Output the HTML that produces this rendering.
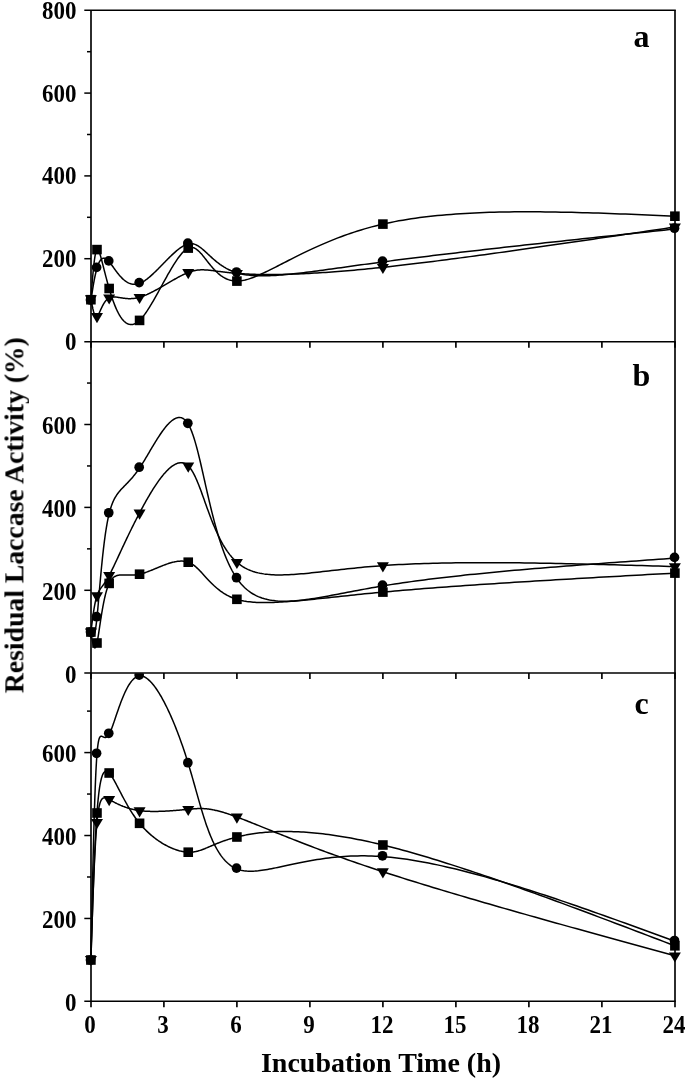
<!DOCTYPE html>
<html><head><meta charset="utf-8"><style>
html,body{margin:0;padding:0;background:#fff;}
svg{display:block;}
text{-webkit-font-smoothing:antialiased;}

</style></head><body>
<svg width="685" height="1080" viewBox="0 0 685 1080">
<rect width="685" height="1080" fill="#fff"/>
<defs><clipPath id="cpa"><rect x="0" y="10.3" width="685" height="351.2"/></clipPath><clipPath id="cpb"><rect x="0" y="341.5" width="685" height="351.70000000000005"/></clipPath><clipPath id="cpc"><rect x="0" y="673.2" width="685" height="348.19999999999993"/></clipPath></defs><g clip-path="url(#cpa)"><path d="M90.90,299.70 L90.99,298.50 L91.08,297.31 L91.17,296.11 L91.26,294.92 L91.34,293.73 L91.43,292.55 L91.52,291.36 L91.61,290.18 L91.70,289.01 L91.79,287.84 L91.88,286.68 L91.97,285.52 L92.06,284.37 L92.15,283.23 L92.24,282.10 L92.34,280.97 L92.43,279.86 L92.52,278.76 L92.61,277.66 L92.70,276.58 L92.80,275.51 L92.89,274.46 L92.99,273.41 L93.08,272.38 L93.17,271.37 L93.27,270.37 L93.37,269.38 L93.46,268.41 L93.56,267.46 L93.66,266.53 L93.76,265.61 L93.86,264.71 L93.96,263.83 L94.06,262.98 L94.16,262.14 L94.26,261.32 L94.36,260.53 L94.47,259.75 L94.57,259.00 L94.68,258.28 L94.78,257.57 L94.89,256.90 L95.00,256.24 L95.11,255.62 L95.21,255.02 L95.33,254.44 L95.44,253.90 L95.55,253.38 L95.66,252.89 L95.78,252.43 L95.89,252.01 L96.01,251.61 L96.13,251.24 L96.25,250.91 L96.37,250.60 L96.49,250.33 L96.61,250.10 L96.73,249.90 L96.86,249.73 L96.98,249.60 L97.11,249.51 L97.24,249.45 L97.37,249.42 L97.50,249.43 L97.63,249.48 L97.77,249.55 L97.90,249.66 L98.04,249.81 L98.18,249.98 L98.32,250.19 L98.47,250.42 L98.61,250.69 L98.76,250.99 L98.91,251.31 L99.06,251.67 L99.21,252.05 L99.37,252.46 L99.53,252.89 L99.69,253.36 L99.85,253.85 L100.02,254.36 L100.19,254.90 L100.36,255.46 L100.53,256.05 L100.71,256.66 L100.89,257.30 L101.07,257.95 L101.25,258.63 L101.44,259.33 L101.63,260.05 L101.83,260.78 L102.03,261.54 L102.23,262.32 L102.43,263.11 L102.64,263.93 L102.85,264.76 L103.07,265.61 L103.29,266.47 L103.51,267.35 L103.74,268.24 L103.97,269.15 L104.20,270.08 L104.44,271.01 L104.68,271.96 L104.93,272.93 L105.18,273.90 L105.43,274.89 L105.69,275.88 L105.95,276.89 L106.22,277.91 L106.49,278.93 L106.77,279.97 L107.05,281.01 L107.33,282.06 L107.62,283.12 L107.92,284.19 L108.22,285.26 L108.52,286.33 L108.83,287.41 L109.15,288.50 L109.47,289.59 L109.80,290.68 L110.13,291.78 L110.46,292.87 L110.80,293.96 L111.15,295.06 L111.50,296.15 L111.86,297.23 L112.22,298.31 L112.59,299.39 L112.97,300.45 L113.35,301.51 L113.73,302.56 L114.12,303.60 L114.52,304.63 L114.93,305.64 L115.34,306.64 L115.75,307.62 L116.17,308.59 L116.60,309.54 L117.04,310.47 L117.48,311.39 L117.93,312.28 L118.38,313.15 L118.84,313.99 L119.31,314.82 L119.78,315.61 L120.26,316.38 L120.75,317.13 L121.25,317.84 L121.75,318.53 L122.26,319.18 L122.77,319.80 L123.29,320.39 L123.82,320.95 L124.36,321.47 L124.90,321.95 L125.46,322.39 L126.01,322.80 L126.58,323.17 L127.15,323.49 L127.74,323.78 L128.33,324.02 L128.92,324.21 L129.53,324.36 L130.14,324.47 L130.76,324.52 L131.39,324.53 L132.02,324.49 L132.67,324.39 L133.32,324.25 L133.98,324.05 L134.65,323.80 L135.33,323.49 L136.01,323.12 L136.71,322.70 L137.41,322.21 L138.12,321.67 L138.84,321.07 L139.57,320.40 L140.30,319.67 L141.05,318.88 L141.80,318.03 L142.56,317.13 L143.33,316.17 L144.11,315.15 L144.89,314.09 L145.68,312.98 L146.47,311.83 L147.28,310.64 L148.08,309.40 L148.90,308.13 L149.71,306.82 L150.54,305.48 L151.36,304.10 L152.19,302.70 L153.03,301.27 L153.87,299.82 L154.71,298.35 L155.55,296.86 L156.40,295.35 L157.25,293.82 L158.10,292.29 L158.95,290.74 L159.81,289.19 L160.66,287.63 L161.52,286.06 L162.38,284.50 L163.23,282.94 L164.09,281.38 L164.95,279.83 L165.80,278.29 L166.66,276.76 L167.51,275.24 L168.36,273.74 L169.21,272.26 L170.06,270.79 L170.91,269.35 L171.75,267.94 L172.59,266.55 L173.42,265.19 L174.26,263.86 L175.08,262.57 L175.91,261.32 L176.72,260.10 L177.54,258.92 L178.35,257.79 L179.15,256.70 L179.95,255.67 L180.74,254.68 L181.52,253.75 L182.30,252.87 L183.07,252.04 L183.83,251.28 L184.58,250.58 L185.33,249.95 L186.07,249.38 L186.80,248.88 L187.52,248.45 L188.23,248.10 L188.93,247.82 L189.63,247.62 L190.31,247.48 L190.99,247.42 L191.66,247.42 L192.32,247.49 L192.98,247.62 L193.64,247.81 L194.28,248.06 L194.93,248.36 L195.57,248.71 L196.21,249.11 L196.85,249.56 L197.49,250.06 L198.12,250.60 L198.76,251.18 L199.40,251.80 L200.04,252.46 L200.68,253.14 L201.32,253.86 L201.97,254.61 L202.62,255.39 L203.28,256.19 L203.94,257.01 L204.61,257.85 L205.28,258.71 L205.96,259.58 L206.65,260.46 L207.35,261.36 L208.06,262.26 L208.78,263.17 L209.51,264.08 L210.25,264.99 L211.00,265.89 L211.77,266.80 L212.54,267.70 L213.34,268.58 L214.14,269.46 L214.97,270.33 L215.80,271.17 L216.66,272.00 L217.53,272.81 L218.42,273.59 L219.33,274.35 L220.25,275.09 L221.20,275.79 L222.17,276.46 L223.15,277.09 L224.16,277.69 L225.20,278.24 L226.25,278.76 L227.33,279.23 L228.44,279.65 L229.56,280.02 L230.72,280.35 L231.90,280.61 L233.11,280.83 L234.34,280.98 L235.61,281.07 L236.90,281.10 L238.22,281.06 L239.57,280.96 L240.95,280.80 L242.37,280.58 L243.81,280.30 L245.29,279.96 L246.80,279.56 L248.34,279.11 L249.91,278.61 L251.52,278.06 L253.15,277.46 L254.83,276.81 L256.54,276.12 L258.28,275.39 L260.06,274.61 L261.87,273.79 L263.72,272.94 L265.61,272.04 L267.53,271.12 L269.49,270.16 L271.49,269.16 L273.52,268.14 L275.59,267.09 L277.71,266.01 L279.86,264.91 L282.05,263.79 L284.28,262.64 L286.55,261.48 L288.86,260.29 L291.22,259.10 L293.61,257.88 L296.05,256.66 L298.53,255.42 L301.05,254.17 L303.61,252.92 L306.22,251.66 L308.87,250.39 L311.57,249.13 L314.31,247.86 L317.10,246.59 L319.93,245.33 L322.80,244.07 L325.73,242.82 L328.70,241.57 L331.72,240.33 L334.78,239.11 L337.89,237.90 L341.05,236.70 L344.26,235.52 L347.52,234.36 L350.83,233.21 L354.19,232.09 L357.60,230.99 L361.06,229.92 L364.57,228.87 L368.13,227.86 L371.74,226.87 L375.41,225.91 L379.12,224.99 L382.90,224.10 L386.79,223.23 L390.73,222.41 L394.73,221.62 L398.78,220.86 L402.88,220.14 L407.03,219.46 L411.23,218.81 L415.48,218.19 L419.78,217.61 L424.13,217.06 L428.52,216.54 L432.95,216.05 L437.43,215.59 L441.96,215.16 L446.52,214.76 L451.13,214.39 L455.77,214.05 L460.46,213.73 L465.18,213.44 L469.94,213.18 L474.74,212.94 L479.58,212.73 L484.45,212.54 L489.35,212.37 L494.28,212.23 L499.25,212.11 L504.25,212.01 L509.28,211.93 L514.33,211.87 L519.42,211.83 L524.53,211.81 L529.67,211.81 L534.83,211.82 L540.02,211.85 L545.23,211.90 L550.46,211.96 L555.72,212.04 L561.00,212.13 L566.29,212.24 L571.61,212.35 L576.94,212.48 L582.29,212.63 L587.65,212.78 L593.03,212.94 L598.43,213.12 L603.83,213.30 L609.25,213.49 L614.68,213.69 L620.12,213.89 L625.57,214.11 L631.03,214.32 L636.50,214.55 L641.97,214.78 L647.45,215.01 L652.93,215.24 L658.42,215.48 L663.91,215.72 L669.40,215.96 L674.89,216.20" fill="none" stroke="#000" stroke-width="1.5"/><path d="M90.90,298.60 L90.99,299.09 L91.08,299.59 L91.17,300.08 L91.26,300.57 L91.34,301.06 L91.43,301.55 L91.52,302.04 L91.61,302.52 L91.70,303.00 L91.79,303.48 L91.88,303.96 L91.97,304.43 L92.06,304.90 L92.15,305.36 L92.24,305.82 L92.34,306.27 L92.43,306.72 L92.52,307.17 L92.61,307.61 L92.70,308.04 L92.80,308.46 L92.89,308.88 L92.99,309.29 L93.08,309.70 L93.17,310.09 L93.27,310.48 L93.37,310.86 L93.46,311.23 L93.56,311.59 L93.66,311.94 L93.76,312.28 L93.86,312.62 L93.96,312.94 L94.06,313.25 L94.16,313.55 L94.26,313.84 L94.36,314.11 L94.47,314.38 L94.57,314.63 L94.68,314.87 L94.78,315.10 L94.89,315.31 L95.00,315.51 L95.11,315.70 L95.21,315.87 L95.33,316.02 L95.44,316.17 L95.55,316.29 L95.66,316.40 L95.78,316.50 L95.89,316.58 L96.01,316.64 L96.13,316.68 L96.25,316.71 L96.37,316.72 L96.49,316.72 L96.61,316.69 L96.73,316.65 L96.86,316.58 L96.98,316.50 L97.11,316.40 L97.24,316.28 L97.37,316.14 L97.50,315.98 L97.63,315.81 L97.77,315.62 L97.90,315.41 L98.04,315.19 L98.18,314.96 L98.32,314.71 L98.47,314.44 L98.61,314.17 L98.76,313.88 L98.91,313.58 L99.06,313.27 L99.21,312.95 L99.37,312.61 L99.53,312.27 L99.69,311.93 L99.85,311.57 L100.02,311.20 L100.19,310.83 L100.36,310.46 L100.53,310.07 L100.71,309.69 L100.89,309.30 L101.07,308.90 L101.25,308.50 L101.44,308.10 L101.63,307.70 L101.83,307.30 L102.03,306.89 L102.23,306.49 L102.43,306.08 L102.64,305.68 L102.85,305.28 L103.07,304.88 L103.29,304.49 L103.51,304.10 L103.74,303.71 L103.97,303.33 L104.20,302.95 L104.44,302.58 L104.68,302.21 L104.93,301.86 L105.18,301.51 L105.43,301.17 L105.69,300.84 L105.95,300.52 L106.22,300.21 L106.49,299.91 L106.77,299.62 L107.05,299.34 L107.33,299.08 L107.62,298.83 L107.92,298.59 L108.22,298.37 L108.52,298.16 L108.83,297.97 L109.15,297.80 L109.47,297.64 L109.80,297.50 L110.13,297.38 L110.46,297.27 L110.80,297.17 L111.15,297.09 L111.50,297.03 L111.86,296.97 L112.22,296.93 L112.59,296.90 L112.97,296.88 L113.35,296.87 L113.73,296.88 L114.12,296.89 L114.52,296.91 L114.93,296.94 L115.34,296.97 L115.75,297.01 L116.17,297.06 L116.60,297.12 L117.04,297.18 L117.48,297.24 L117.93,297.31 L118.38,297.39 L118.84,297.46 L119.31,297.54 L119.78,297.62 L120.26,297.70 L120.75,297.78 L121.25,297.86 L121.75,297.94 L122.26,298.02 L122.77,298.10 L123.29,298.17 L123.82,298.24 L124.36,298.31 L124.90,298.37 L125.46,298.43 L126.01,298.48 L126.58,298.53 L127.15,298.57 L127.74,298.61 L128.33,298.63 L128.92,298.65 L129.53,298.66 L130.14,298.66 L130.76,298.64 L131.39,298.62 L132.02,298.59 L132.67,298.54 L133.32,298.48 L133.98,298.41 L134.65,298.33 L135.33,298.23 L136.01,298.11 L136.71,297.99 L137.41,297.84 L138.12,297.68 L138.84,297.50 L139.57,297.30 L140.30,297.08 L141.05,296.85 L141.80,296.60 L142.56,296.33 L143.33,296.05 L144.11,295.75 L144.89,295.43 L145.68,295.11 L146.47,294.76 L147.28,294.41 L148.08,294.04 L148.90,293.66 L149.71,293.27 L150.54,292.86 L151.36,292.45 L152.19,292.03 L153.03,291.59 L153.87,291.15 L154.71,290.70 L155.55,290.25 L156.40,289.78 L157.25,289.32 L158.10,288.84 L158.95,288.36 L159.81,287.87 L160.66,287.38 L161.52,286.89 L162.38,286.40 L163.23,285.90 L164.09,285.40 L164.95,284.90 L165.80,284.40 L166.66,283.90 L167.51,283.40 L168.36,282.90 L169.21,282.40 L170.06,281.91 L170.91,281.41 L171.75,280.92 L172.59,280.44 L173.42,279.96 L174.26,279.49 L175.08,279.02 L175.91,278.55 L176.72,278.10 L177.54,277.65 L178.35,277.21 L179.15,276.78 L179.95,276.36 L180.74,275.95 L181.52,275.55 L182.30,275.16 L183.07,274.78 L183.83,274.41 L184.58,274.06 L185.33,273.72 L186.07,273.39 L186.80,273.08 L187.52,272.78 L188.23,272.50 L188.93,272.23 L189.63,271.99 L190.31,271.75 L190.99,271.53 L191.66,271.33 L192.32,271.14 L192.98,270.97 L193.64,270.81 L194.28,270.66 L194.93,270.52 L195.57,270.40 L196.21,270.29 L196.85,270.20 L197.49,270.11 L198.12,270.04 L198.76,269.98 L199.40,269.93 L200.04,269.89 L200.68,269.86 L201.32,269.84 L201.97,269.83 L202.62,269.83 L203.28,269.84 L203.94,269.85 L204.61,269.88 L205.28,269.91 L205.96,269.95 L206.65,270.00 L207.35,270.06 L208.06,270.12 L208.78,270.18 L209.51,270.26 L210.25,270.34 L211.00,270.42 L211.77,270.51 L212.54,270.61 L213.34,270.70 L214.14,270.81 L214.97,270.91 L215.80,271.02 L216.66,271.14 L217.53,271.25 L218.42,271.37 L219.33,271.49 L220.25,271.61 L221.20,271.73 L222.17,271.85 L223.15,271.98 L224.16,272.10 L225.20,272.23 L226.25,272.35 L227.33,272.48 L228.44,272.60 L229.56,272.72 L230.72,272.84 L231.90,272.96 L233.11,273.07 L234.34,273.18 L235.61,273.29 L236.90,273.40 L238.22,273.50 L239.57,273.60 L240.95,273.70 L242.37,273.79 L243.81,273.87 L245.29,273.96 L246.80,274.03 L248.34,274.11 L249.91,274.17 L251.52,274.24 L253.15,274.29 L254.83,274.35 L256.54,274.39 L258.28,274.43 L260.06,274.47 L261.87,274.50 L263.72,274.52 L265.61,274.53 L267.53,274.54 L269.49,274.55 L271.49,274.54 L273.52,274.53 L275.59,274.51 L277.71,274.49 L279.86,274.45 L282.05,274.41 L284.28,274.37 L286.55,274.31 L288.86,274.24 L291.22,274.17 L293.61,274.09 L296.05,274.00 L298.53,273.90 L301.05,273.79 L303.61,273.67 L306.22,273.55 L308.87,273.41 L311.57,273.27 L314.31,273.11 L317.10,272.94 L319.93,272.77 L322.80,272.58 L325.73,272.39 L328.70,272.18 L331.72,271.96 L334.78,271.73 L337.89,271.50 L341.05,271.24 L344.26,270.98 L347.52,270.71 L350.83,270.42 L354.19,270.13 L357.60,269.82 L361.06,269.49 L364.57,269.16 L368.13,268.81 L371.74,268.46 L375.41,268.08 L379.12,267.70 L382.90,267.30 L386.79,266.88 L390.73,266.45 L394.73,266.00 L398.78,265.55 L402.88,265.07 L407.03,264.59 L411.23,264.09 L415.48,263.58 L419.78,263.06 L424.13,262.53 L428.52,261.99 L432.95,261.43 L437.43,260.87 L441.96,260.29 L446.52,259.70 L451.13,259.11 L455.77,258.50 L460.46,257.88 L465.18,257.25 L469.94,256.62 L474.74,255.97 L479.58,255.32 L484.45,254.66 L489.35,253.98 L494.28,253.30 L499.25,252.62 L504.25,251.92 L509.28,251.22 L514.33,250.51 L519.42,249.79 L524.53,249.07 L529.67,248.34 L534.83,247.60 L540.02,246.86 L545.23,246.11 L550.46,245.36 L555.72,244.60 L561.00,243.83 L566.29,243.06 L571.61,242.29 L576.94,241.51 L582.29,240.73 L587.65,239.94 L593.03,239.15 L598.43,238.36 L603.83,237.56 L609.25,236.76 L614.68,235.95 L620.12,235.15 L625.57,234.34 L631.03,233.53 L636.50,232.72 L641.97,231.90 L647.45,231.09 L652.93,230.27 L658.42,229.46 L663.91,228.64 L669.40,227.82 L674.89,227.00" fill="none" stroke="#000" stroke-width="1.5"/><path d="M90.90,300.80 L90.99,300.20 L91.08,299.60 L91.17,299.00 L91.26,298.40 L91.34,297.80 L91.43,297.20 L91.52,296.61 L91.61,296.01 L91.70,295.41 L91.79,294.82 L91.88,294.22 L91.97,293.63 L92.06,293.04 L92.15,292.44 L92.24,291.86 L92.34,291.27 L92.43,290.68 L92.52,290.09 L92.61,289.51 L92.70,288.93 L92.80,288.35 L92.89,287.77 L92.99,287.19 L93.08,286.62 L93.17,286.05 L93.27,285.48 L93.37,284.91 L93.46,284.35 L93.56,283.79 L93.66,283.23 L93.76,282.67 L93.86,282.12 L93.96,281.57 L94.06,281.02 L94.16,280.48 L94.26,279.94 L94.36,279.40 L94.47,278.87 L94.57,278.34 L94.68,277.81 L94.78,277.29 L94.89,276.77 L95.00,276.25 L95.11,275.74 L95.21,275.24 L95.33,274.73 L95.44,274.24 L95.55,273.74 L95.66,273.25 L95.78,272.77 L95.89,272.29 L96.01,271.82 L96.13,271.35 L96.25,270.88 L96.37,270.42 L96.49,269.97 L96.61,269.52 L96.73,269.07 L96.86,268.63 L96.98,268.20 L97.11,267.77 L97.24,267.35 L97.37,266.94 L97.50,266.53 L97.63,266.12 L97.77,265.73 L97.90,265.34 L98.04,264.96 L98.18,264.59 L98.32,264.22 L98.47,263.87 L98.61,263.52 L98.76,263.18 L98.91,262.85 L99.06,262.52 L99.21,262.21 L99.37,261.91 L99.53,261.62 L99.69,261.34 L99.85,261.06 L100.02,260.80 L100.19,260.55 L100.36,260.31 L100.53,260.09 L100.71,259.87 L100.89,259.67 L101.07,259.48 L101.25,259.30 L101.44,259.13 L101.63,258.98 L101.83,258.84 L102.03,258.71 L102.23,258.60 L102.43,258.50 L102.64,258.42 L102.85,258.35 L103.07,258.29 L103.29,258.25 L103.51,258.23 L103.74,258.22 L103.97,258.23 L104.20,258.25 L104.44,258.29 L104.68,258.35 L104.93,258.42 L105.18,258.51 L105.43,258.61 L105.69,258.74 L105.95,258.88 L106.22,259.04 L106.49,259.22 L106.77,259.42 L107.05,259.64 L107.33,259.87 L107.62,260.13 L107.92,260.40 L108.22,260.70 L108.52,261.01 L108.83,261.34 L109.15,261.70 L109.47,262.08 L109.80,262.47 L110.13,262.89 L110.46,263.32 L110.80,263.77 L111.15,264.23 L111.50,264.71 L111.86,265.21 L112.22,265.71 L112.59,266.23 L112.97,266.76 L113.35,267.29 L113.73,267.84 L114.12,268.39 L114.52,268.95 L114.93,269.51 L115.34,270.08 L115.75,270.65 L116.17,271.22 L116.60,271.79 L117.04,272.37 L117.48,272.94 L117.93,273.51 L118.38,274.08 L118.84,274.64 L119.31,275.19 L119.78,275.74 L120.26,276.29 L120.75,276.82 L121.25,277.35 L121.75,277.86 L122.26,278.36 L122.77,278.85 L123.29,279.33 L123.82,279.79 L124.36,280.23 L124.90,280.66 L125.46,281.07 L126.01,281.46 L126.58,281.83 L127.15,282.18 L127.74,282.51 L128.33,282.81 L128.92,283.09 L129.53,283.35 L130.14,283.57 L130.76,283.77 L131.39,283.95 L132.02,284.09 L132.67,284.20 L133.32,284.28 L133.98,284.33 L134.65,284.34 L135.33,284.32 L136.01,284.26 L136.71,284.17 L137.41,284.04 L138.12,283.86 L138.84,283.65 L139.57,283.40 L140.30,283.11 L141.05,282.77 L141.80,282.40 L142.56,281.98 L143.33,281.54 L144.11,281.05 L144.89,280.54 L145.68,279.99 L146.47,279.41 L147.28,278.80 L148.08,278.16 L148.90,277.50 L149.71,276.82 L150.54,276.11 L151.36,275.38 L152.19,274.62 L153.03,273.85 L153.87,273.07 L154.71,272.26 L155.55,271.45 L156.40,270.62 L157.25,269.78 L158.10,268.93 L158.95,268.07 L159.81,267.20 L160.66,266.33 L161.52,265.45 L162.38,264.57 L163.23,263.69 L164.09,262.81 L164.95,261.94 L165.80,261.06 L166.66,260.19 L167.51,259.33 L168.36,258.47 L169.21,257.63 L170.06,256.79 L170.91,255.97 L171.75,255.16 L172.59,254.36 L173.42,253.59 L174.26,252.83 L175.08,252.09 L175.91,251.37 L176.72,250.67 L177.54,250.00 L178.35,249.35 L179.15,248.73 L179.95,248.13 L180.74,247.57 L181.52,247.04 L182.30,246.54 L183.07,246.07 L183.83,245.65 L184.58,245.25 L185.33,244.90 L186.07,244.59 L186.80,244.31 L187.52,244.08 L188.23,243.90 L188.93,243.76 L189.63,243.67 L190.31,243.62 L190.99,243.61 L191.66,243.64 L192.32,243.71 L192.98,243.82 L193.64,243.97 L194.28,244.15 L194.93,244.37 L195.57,244.63 L196.21,244.91 L196.85,245.23 L197.49,245.57 L198.12,245.95 L198.76,246.35 L199.40,246.78 L200.04,247.24 L200.68,247.71 L201.32,248.22 L201.97,248.74 L202.62,249.28 L203.28,249.84 L203.94,250.42 L204.61,251.02 L205.28,251.63 L205.96,252.25 L206.65,252.89 L207.35,253.54 L208.06,254.20 L208.78,254.87 L209.51,255.55 L210.25,256.23 L211.00,256.92 L211.77,257.62 L212.54,258.32 L213.34,259.01 L214.14,259.71 L214.97,260.41 L215.80,261.11 L216.66,261.81 L217.53,262.50 L218.42,263.18 L219.33,263.86 L220.25,264.53 L221.20,265.19 L222.17,265.84 L223.15,266.48 L224.16,267.11 L225.20,267.72 L226.25,268.32 L227.33,268.90 L228.44,269.46 L229.56,270.00 L230.72,270.53 L231.90,271.03 L233.11,271.51 L234.34,271.96 L235.61,272.40 L236.90,272.80 L238.22,273.18 L239.57,273.53 L240.95,273.85 L242.37,274.15 L243.81,274.42 L245.29,274.67 L246.80,274.89 L248.34,275.08 L249.91,275.26 L251.52,275.41 L253.15,275.53 L254.83,275.63 L256.54,275.71 L258.28,275.77 L260.06,275.81 L261.87,275.83 L263.72,275.82 L265.61,275.79 L267.53,275.75 L269.49,275.68 L271.49,275.60 L273.52,275.50 L275.59,275.38 L277.71,275.24 L279.86,275.08 L282.05,274.91 L284.28,274.72 L286.55,274.51 L288.86,274.29 L291.22,274.05 L293.61,273.80 L296.05,273.53 L298.53,273.25 L301.05,272.96 L303.61,272.65 L306.22,272.33 L308.87,272.00 L311.57,271.65 L314.31,271.30 L317.10,270.93 L319.93,270.55 L322.80,270.16 L325.73,269.77 L328.70,269.36 L331.72,268.94 L334.78,268.52 L337.89,268.08 L341.05,267.64 L344.26,267.20 L347.52,266.74 L350.83,266.28 L354.19,265.81 L357.60,265.34 L361.06,264.86 L364.57,264.37 L368.13,263.89 L371.74,263.40 L375.41,262.90 L379.12,262.40 L382.90,261.90 L386.79,261.39 L390.73,260.87 L394.73,260.36 L398.78,259.84 L402.88,259.32 L407.03,258.79 L411.23,258.27 L415.48,257.74 L419.78,257.21 L424.13,256.68 L428.52,256.14 L432.95,255.61 L437.43,255.07 L441.96,254.53 L446.52,253.99 L451.13,253.45 L455.77,252.90 L460.46,252.36 L465.18,251.81 L469.94,251.26 L474.74,250.71 L479.58,250.16 L484.45,249.60 L489.35,249.05 L494.28,248.49 L499.25,247.93 L504.25,247.37 L509.28,246.81 L514.33,246.25 L519.42,245.68 L524.53,245.12 L529.67,244.55 L534.83,243.99 L540.02,243.42 L545.23,242.85 L550.46,242.28 L555.72,241.71 L561.00,241.14 L566.29,240.57 L571.61,239.99 L576.94,239.42 L582.29,238.84 L587.65,238.27 L593.03,237.69 L598.43,237.11 L603.83,236.54 L609.25,235.96 L614.68,235.38 L620.12,234.80 L625.57,234.22 L631.03,233.64 L636.50,233.06 L641.97,232.48 L647.45,231.90 L652.93,231.32 L658.42,230.74 L663.91,230.16 L669.40,229.58 L674.89,229.00" fill="none" stroke="#000" stroke-width="1.5"/><rect x="86.10" y="294.90" width="9.6" height="9.6"/><rect x="92.18" y="244.80" width="9.6" height="9.6"/><rect x="104.35" y="283.70" width="9.6" height="9.6"/><rect x="134.77" y="315.60" width="9.6" height="9.6"/><rect x="183.43" y="243.30" width="9.6" height="9.6"/><rect x="232.10" y="276.30" width="9.6" height="9.6"/><rect x="378.10" y="219.30" width="9.6" height="9.6"/><rect x="670.09" y="211.40" width="9.6" height="9.6"/><path d="M84.90,295.20 L96.90,295.20 L90.90,305.40 Z"/><path d="M90.98,313.10 L102.98,313.10 L96.98,323.30 Z"/><path d="M103.15,294.40 L115.15,294.40 L109.15,304.60 Z"/><path d="M133.57,293.90 L145.57,293.90 L139.57,304.10 Z"/><path d="M182.23,269.10 L194.23,269.10 L188.23,279.30 Z"/><path d="M230.90,270.00 L242.90,270.00 L236.90,280.20 Z"/><path d="M376.90,263.90 L388.90,263.90 L382.90,274.10 Z"/><path d="M668.89,223.60 L680.89,223.60 L674.89,233.80 Z"/><circle cx="90.50" cy="300.00" r="4.85"/><circle cx="96.58" cy="267.40" r="4.85"/><circle cx="108.75" cy="260.90" r="4.85"/><circle cx="139.17" cy="282.60" r="4.85"/><circle cx="187.83" cy="243.10" r="4.85"/><circle cx="236.50" cy="272.00" r="4.85"/><circle cx="382.50" cy="261.10" r="4.85"/><circle cx="674.49" cy="228.20" r="4.85"/></g><g clip-path="url(#cpb)"><path d="M90.90,632.00 L90.99,632.56 L91.08,633.13 L91.17,633.69 L91.26,634.25 L91.34,634.81 L91.43,635.37 L91.52,635.92 L91.61,636.47 L91.70,637.01 L91.79,637.54 L91.88,638.07 L91.97,638.60 L92.06,639.11 L92.15,639.62 L92.24,640.12 L92.34,640.61 L92.43,641.08 L92.52,641.55 L92.61,642.01 L92.70,642.45 L92.80,642.88 L92.89,643.30 L92.99,643.70 L93.08,644.09 L93.17,644.47 L93.27,644.83 L93.37,645.17 L93.46,645.49 L93.56,645.80 L93.66,646.09 L93.76,646.36 L93.86,646.61 L93.96,646.83 L94.06,647.04 L94.16,647.23 L94.26,647.39 L94.36,647.53 L94.47,647.65 L94.57,647.75 L94.68,647.81 L94.78,647.86 L94.89,647.88 L95.00,647.87 L95.11,647.83 L95.21,647.76 L95.33,647.67 L95.44,647.55 L95.55,647.40 L95.66,647.21 L95.78,647.00 L95.89,646.75 L96.01,646.47 L96.13,646.16 L96.25,645.82 L96.37,645.44 L96.49,645.02 L96.61,644.57 L96.73,644.08 L96.86,643.56 L96.98,643.00 L97.11,642.40 L97.24,641.77 L97.37,641.09 L97.50,640.39 L97.63,639.65 L97.77,638.88 L97.90,638.07 L98.04,637.24 L98.18,636.38 L98.32,635.50 L98.47,634.58 L98.61,633.64 L98.76,632.68 L98.91,631.70 L99.06,630.69 L99.21,629.67 L99.37,628.62 L99.53,627.56 L99.69,626.49 L99.85,625.39 L100.02,624.29 L100.19,623.17 L100.36,622.04 L100.53,620.90 L100.71,619.75 L100.89,618.59 L101.07,617.43 L101.25,616.26 L101.44,615.09 L101.63,613.91 L101.83,612.74 L102.03,611.56 L102.23,610.38 L102.43,609.21 L102.64,608.04 L102.85,606.87 L103.07,605.71 L103.29,604.56 L103.51,603.41 L103.74,602.27 L103.97,601.15 L104.20,600.04 L104.44,598.93 L104.68,597.85 L104.93,596.78 L105.18,595.72 L105.43,594.69 L105.69,593.67 L105.95,592.67 L106.22,591.70 L106.49,590.74 L106.77,589.82 L107.05,588.91 L107.33,588.04 L107.62,587.19 L107.92,586.37 L108.22,585.58 L108.52,584.82 L108.83,584.09 L109.15,583.40 L109.47,582.74 L109.80,582.12 L110.13,581.53 L110.46,580.97 L110.80,580.44 L111.15,579.95 L111.50,579.48 L111.86,579.04 L112.22,578.63 L112.59,578.25 L112.97,577.90 L113.35,577.57 L113.73,577.26 L114.12,576.98 L114.52,576.72 L114.93,576.48 L115.34,576.26 L115.75,576.06 L116.17,575.88 L116.60,575.72 L117.04,575.58 L117.48,575.46 L117.93,575.35 L118.38,575.25 L118.84,575.17 L119.31,575.10 L119.78,575.04 L120.26,575.00 L120.75,574.96 L121.25,574.94 L121.75,574.92 L122.26,574.91 L122.77,574.91 L123.29,574.91 L123.82,574.92 L124.36,574.93 L124.90,574.95 L125.46,574.96 L126.01,574.98 L126.58,575.01 L127.15,575.03 L127.74,575.04 L128.33,575.06 L128.92,575.08 L129.53,575.09 L130.14,575.09 L130.76,575.09 L131.39,575.09 L132.02,575.07 L132.67,575.05 L133.32,575.02 L133.98,574.98 L134.65,574.93 L135.33,574.87 L136.01,574.79 L136.71,574.71 L137.41,574.60 L138.12,574.49 L138.84,574.35 L139.57,574.20 L140.30,574.03 L141.05,573.85 L141.80,573.64 L142.56,573.43 L143.33,573.20 L144.11,572.95 L144.89,572.69 L145.68,572.42 L146.47,572.14 L147.28,571.85 L148.08,571.55 L148.90,571.24 L149.71,570.92 L150.54,570.59 L151.36,570.26 L152.19,569.93 L153.03,569.58 L153.87,569.24 L154.71,568.89 L155.55,568.54 L156.40,568.19 L157.25,567.84 L158.10,567.48 L158.95,567.13 L159.81,566.78 L160.66,566.44 L161.52,566.09 L162.38,565.76 L163.23,565.42 L164.09,565.10 L164.95,564.78 L165.80,564.46 L166.66,564.16 L167.51,563.87 L168.36,563.58 L169.21,563.31 L170.06,563.05 L170.91,562.80 L171.75,562.56 L172.59,562.34 L173.42,562.14 L174.26,561.95 L175.08,561.77 L175.91,561.62 L176.72,561.48 L177.54,561.36 L178.35,561.27 L179.15,561.19 L179.95,561.13 L180.74,561.10 L181.52,561.09 L182.30,561.11 L183.07,561.15 L183.83,561.21 L184.58,561.31 L185.33,561.43 L186.07,561.58 L186.80,561.75 L187.52,561.96 L188.23,562.20 L188.93,562.47 L189.63,562.77 L190.31,563.10 L190.99,563.46 L191.66,563.85 L192.32,564.26 L192.98,564.70 L193.64,565.16 L194.28,565.65 L194.93,566.16 L195.57,566.69 L196.21,567.25 L196.85,567.82 L197.49,568.41 L198.12,569.02 L198.76,569.65 L199.40,570.29 L200.04,570.95 L200.68,571.62 L201.32,572.31 L201.97,573.00 L202.62,573.71 L203.28,574.43 L203.94,575.16 L204.61,575.90 L205.28,576.64 L205.96,577.39 L206.65,578.15 L207.35,578.91 L208.06,579.67 L208.78,580.43 L209.51,581.20 L210.25,581.97 L211.00,582.73 L211.77,583.50 L212.54,584.26 L213.34,585.02 L214.14,585.78 L214.97,586.53 L215.80,587.27 L216.66,588.01 L217.53,588.73 L218.42,589.45 L219.33,590.16 L220.25,590.86 L221.20,591.54 L222.17,592.21 L223.15,592.87 L224.16,593.51 L225.20,594.14 L226.25,594.75 L227.33,595.34 L228.44,595.91 L229.56,596.46 L230.72,596.99 L231.90,597.50 L233.11,597.99 L234.34,598.45 L235.61,598.89 L236.90,599.30 L238.22,599.68 L239.57,600.04 L240.95,600.38 L242.37,600.68 L243.81,600.97 L245.29,601.22 L246.80,601.46 L248.34,601.67 L249.91,601.86 L251.52,602.02 L253.15,602.17 L254.83,602.29 L256.54,602.39 L258.28,602.47 L260.06,602.53 L261.87,602.57 L263.72,602.59 L265.61,602.59 L267.53,602.57 L269.49,602.54 L271.49,602.49 L273.52,602.42 L275.59,602.34 L277.71,602.24 L279.86,602.12 L282.05,601.99 L284.28,601.85 L286.55,601.69 L288.86,601.52 L291.22,601.33 L293.61,601.13 L296.05,600.92 L298.53,600.70 L301.05,600.47 L303.61,600.23 L306.22,599.97 L308.87,599.71 L311.57,599.44 L314.31,599.16 L317.10,598.87 L319.93,598.57 L322.80,598.27 L325.73,597.96 L328.70,597.64 L331.72,597.32 L334.78,596.99 L337.89,596.66 L341.05,596.32 L344.26,595.98 L347.52,595.63 L350.83,595.29 L354.19,594.94 L357.60,594.58 L361.06,594.23 L364.57,593.87 L368.13,593.52 L371.74,593.16 L375.41,592.81 L379.12,592.45 L382.90,592.10 L386.79,591.74 L390.73,591.39 L394.73,591.03 L398.78,590.68 L402.88,590.33 L407.03,589.98 L411.23,589.64 L415.48,589.29 L419.78,588.95 L424.13,588.60 L428.52,588.26 L432.95,587.92 L437.43,587.59 L441.96,587.25 L446.52,586.91 L451.13,586.58 L455.77,586.25 L460.46,585.92 L465.18,585.59 L469.94,585.26 L474.74,584.93 L479.58,584.61 L484.45,584.28 L489.35,583.96 L494.28,583.64 L499.25,583.32 L504.25,582.99 L509.28,582.68 L514.33,582.36 L519.42,582.04 L524.53,581.72 L529.67,581.41 L534.83,581.09 L540.02,580.78 L545.23,580.47 L550.46,580.15 L555.72,579.84 L561.00,579.53 L566.29,579.22 L571.61,578.91 L576.94,578.60 L582.29,578.29 L587.65,577.98 L593.03,577.68 L598.43,577.37 L603.83,577.06 L609.25,576.76 L614.68,576.45 L620.12,576.14 L625.57,575.84 L631.03,575.53 L636.50,575.23 L641.97,574.92 L647.45,574.62 L652.93,574.32 L658.42,574.01 L663.91,573.71 L669.40,573.40 L674.89,573.10" fill="none" stroke="#000" stroke-width="1.5"/><path d="M90.90,632.00 L90.99,631.28 L91.08,630.56 L91.17,629.84 L91.26,629.12 L91.34,628.40 L91.43,627.68 L91.52,626.96 L91.61,626.25 L91.70,625.54 L91.79,624.82 L91.88,624.11 L91.97,623.40 L92.06,622.70 L92.15,621.99 L92.24,621.29 L92.34,620.60 L92.43,619.90 L92.52,619.21 L92.61,618.52 L92.70,617.84 L92.80,617.16 L92.89,616.48 L92.99,615.81 L93.08,615.14 L93.17,614.47 L93.27,613.81 L93.37,613.16 L93.46,612.51 L93.56,611.87 L93.66,611.23 L93.76,610.60 L93.86,609.97 L93.96,609.35 L94.06,608.74 L94.16,608.13 L94.26,607.53 L94.36,606.93 L94.47,606.35 L94.57,605.77 L94.68,605.20 L94.78,604.63 L94.89,604.07 L95.00,603.52 L95.11,602.98 L95.21,602.45 L95.33,601.93 L95.44,601.41 L95.55,600.91 L95.66,600.41 L95.78,599.92 L95.89,599.44 L96.01,598.98 L96.13,598.52 L96.25,598.07 L96.37,597.63 L96.49,597.20 L96.61,596.79 L96.73,596.38 L96.86,595.98 L96.98,595.60 L97.11,595.23 L97.24,594.87 L97.37,594.51 L97.50,594.17 L97.63,593.84 L97.77,593.52 L97.90,593.20 L98.04,592.90 L98.18,592.60 L98.32,592.31 L98.47,592.02 L98.61,591.74 L98.76,591.47 L98.91,591.20 L99.06,590.93 L99.21,590.67 L99.37,590.41 L99.53,590.16 L99.69,589.90 L99.85,589.65 L100.02,589.41 L100.19,589.16 L100.36,588.91 L100.53,588.66 L100.71,588.41 L100.89,588.16 L101.07,587.91 L101.25,587.66 L101.44,587.41 L101.63,587.15 L101.83,586.89 L102.03,586.62 L102.23,586.35 L102.43,586.07 L102.64,585.79 L102.85,585.50 L103.07,585.21 L103.29,584.91 L103.51,584.60 L103.74,584.29 L103.97,583.96 L104.20,583.63 L104.44,583.28 L104.68,582.93 L104.93,582.56 L105.18,582.19 L105.43,581.80 L105.69,581.40 L105.95,580.99 L106.22,580.57 L106.49,580.13 L106.77,579.68 L107.05,579.21 L107.33,578.73 L107.62,578.23 L107.92,577.72 L108.22,577.19 L108.52,576.65 L108.83,576.08 L109.15,575.50 L109.47,574.90 L109.80,574.28 L110.13,573.64 L110.46,572.99 L110.80,572.32 L111.15,571.63 L111.50,570.92 L111.86,570.19 L112.22,569.45 L112.59,568.69 L112.97,567.91 L113.35,567.12 L113.73,566.31 L114.12,565.49 L114.52,564.65 L114.93,563.79 L115.34,562.91 L115.75,562.03 L116.17,561.12 L116.60,560.20 L117.04,559.27 L117.48,558.32 L117.93,557.35 L118.38,556.38 L118.84,555.38 L119.31,554.37 L119.78,553.35 L120.26,552.32 L120.75,551.27 L121.25,550.21 L121.75,549.13 L122.26,548.04 L122.77,546.94 L123.29,545.82 L123.82,544.70 L124.36,543.56 L124.90,542.40 L125.46,541.24 L126.01,540.06 L126.58,538.88 L127.15,537.68 L127.74,536.46 L128.33,535.24 L128.92,534.01 L129.53,532.76 L130.14,531.51 L130.76,530.24 L131.39,528.97 L132.02,527.68 L132.67,526.38 L133.32,525.08 L133.98,523.76 L134.65,522.43 L135.33,521.10 L136.01,519.75 L136.71,518.40 L137.41,517.04 L138.12,515.67 L138.84,514.29 L139.57,512.90 L140.30,511.50 L141.05,510.10 L141.80,508.69 L142.56,507.28 L143.33,505.87 L144.11,504.45 L144.89,503.04 L145.68,501.62 L146.47,500.21 L147.28,498.81 L148.08,497.41 L148.90,496.02 L149.71,494.63 L150.54,493.26 L151.36,491.90 L152.19,490.55 L153.03,489.22 L153.87,487.90 L154.71,486.60 L155.55,485.32 L156.40,484.06 L157.25,482.82 L158.10,481.61 L158.95,480.42 L159.81,479.25 L160.66,478.11 L161.52,477.00 L162.38,475.93 L163.23,474.88 L164.09,473.86 L164.95,472.89 L165.80,471.94 L166.66,471.04 L167.51,470.17 L168.36,469.34 L169.21,468.56 L170.06,467.81 L170.91,467.12 L171.75,466.46 L172.59,465.86 L173.42,465.30 L174.26,464.80 L175.08,464.34 L175.91,463.94 L176.72,463.60 L177.54,463.31 L178.35,463.07 L179.15,462.90 L179.95,462.78 L180.74,462.73 L181.52,462.74 L182.30,462.81 L183.07,462.96 L183.83,463.16 L184.58,463.44 L185.33,463.79 L186.07,464.20 L186.80,464.69 L187.52,465.26 L188.23,465.90 L188.93,466.62 L189.63,467.41 L190.31,468.28 L190.99,469.21 L191.66,470.21 L192.32,471.28 L192.98,472.42 L193.64,473.61 L194.28,474.86 L194.93,476.17 L195.57,477.53 L196.21,478.95 L196.85,480.41 L197.49,481.92 L198.12,483.48 L198.76,485.07 L199.40,486.71 L200.04,488.39 L200.68,490.10 L201.32,491.84 L201.97,493.62 L202.62,495.42 L203.28,497.26 L203.94,499.11 L204.61,500.99 L205.28,502.88 L205.96,504.79 L206.65,506.72 L207.35,508.66 L208.06,510.61 L208.78,512.57 L209.51,514.53 L210.25,516.50 L211.00,518.46 L211.77,520.43 L212.54,522.39 L213.34,524.35 L214.14,526.29 L214.97,528.23 L215.80,530.15 L216.66,532.06 L217.53,533.95 L218.42,535.82 L219.33,537.67 L220.25,539.49 L221.20,541.29 L222.17,543.05 L223.15,544.79 L224.16,546.49 L225.20,548.15 L226.25,549.78 L227.33,551.37 L228.44,552.91 L229.56,554.40 L230.72,555.85 L231.90,557.25 L233.11,558.60 L234.34,559.89 L235.61,561.12 L236.90,562.30 L238.22,563.41 L239.57,564.47 L240.95,565.46 L242.37,566.40 L243.81,567.28 L245.29,568.10 L246.80,568.87 L248.34,569.59 L249.91,570.26 L251.52,570.87 L253.15,571.44 L254.83,571.96 L256.54,572.43 L258.28,572.86 L260.06,573.24 L261.87,573.58 L263.72,573.88 L265.61,574.14 L267.53,574.36 L269.49,574.54 L271.49,574.69 L273.52,574.80 L275.59,574.88 L277.71,574.92 L279.86,574.94 L282.05,574.92 L284.28,574.87 L286.55,574.80 L288.86,574.70 L291.22,574.58 L293.61,574.43 L296.05,574.26 L298.53,574.07 L301.05,573.86 L303.61,573.63 L306.22,573.39 L308.87,573.13 L311.57,572.85 L314.31,572.56 L317.10,572.26 L319.93,571.94 L322.80,571.62 L325.73,571.29 L328.70,570.95 L331.72,570.60 L334.78,570.26 L337.89,569.90 L341.05,569.55 L344.26,569.19 L347.52,568.84 L350.83,568.49 L354.19,568.14 L357.60,567.79 L361.06,567.45 L364.57,567.12 L368.13,566.79 L371.74,566.48 L375.41,566.17 L379.12,565.88 L382.90,565.60 L386.79,565.33 L390.73,565.07 L394.73,564.83 L398.78,564.61 L402.88,564.39 L407.03,564.20 L411.23,564.01 L415.48,563.84 L419.78,563.68 L424.13,563.53 L428.52,563.40 L432.95,563.28 L437.43,563.17 L441.96,563.07 L446.52,562.98 L451.13,562.90 L455.77,562.84 L460.46,562.79 L465.18,562.74 L469.94,562.71 L474.74,562.68 L479.58,562.67 L484.45,562.66 L489.35,562.67 L494.28,562.68 L499.25,562.70 L504.25,562.73 L509.28,562.77 L514.33,562.82 L519.42,562.87 L524.53,562.93 L529.67,563.00 L534.83,563.08 L540.02,563.16 L545.23,563.25 L550.46,563.34 L555.72,563.44 L561.00,563.55 L566.29,563.66 L571.61,563.77 L576.94,563.89 L582.29,564.02 L587.65,564.15 L593.03,564.28 L598.43,564.42 L603.83,564.56 L609.25,564.70 L614.68,564.85 L620.12,565.00 L625.57,565.15 L631.03,565.31 L636.50,565.47 L641.97,565.62 L647.45,565.78 L652.93,565.95 L658.42,566.11 L663.91,566.27 L669.40,566.44 L674.89,566.60" fill="none" stroke="#000" stroke-width="1.5"/><path d="M90.90,632.80 L90.99,633.03 L91.08,633.26 L91.17,633.49 L91.26,633.71 L91.34,633.93 L91.43,634.15 L91.52,634.36 L91.61,634.57 L91.70,634.77 L91.79,634.97 L91.88,635.15 L91.97,635.33 L92.06,635.50 L92.15,635.65 L92.24,635.80 L92.34,635.93 L92.43,636.05 L92.52,636.16 L92.61,636.25 L92.70,636.32 L92.80,636.38 L92.89,636.43 L92.99,636.45 L93.08,636.46 L93.17,636.45 L93.27,636.41 L93.37,636.36 L93.46,636.28 L93.56,636.19 L93.66,636.06 L93.76,635.92 L93.86,635.75 L93.96,635.55 L94.06,635.33 L94.16,635.08 L94.26,634.80 L94.36,634.49 L94.47,634.15 L94.57,633.78 L94.68,633.38 L94.78,632.95 L94.89,632.48 L95.00,631.98 L95.11,631.45 L95.21,630.88 L95.33,630.27 L95.44,629.62 L95.55,628.94 L95.66,628.22 L95.78,627.46 L95.89,626.66 L96.01,625.82 L96.13,624.93 L96.25,624.01 L96.37,623.04 L96.49,622.02 L96.61,620.96 L96.73,619.85 L96.86,618.70 L96.98,617.50 L97.11,616.25 L97.24,614.95 L97.37,613.61 L97.50,612.23 L97.63,610.80 L97.77,609.33 L97.90,607.83 L98.04,606.28 L98.18,604.70 L98.32,603.09 L98.47,601.44 L98.61,599.76 L98.76,598.05 L98.91,596.32 L99.06,594.55 L99.21,592.77 L99.37,590.96 L99.53,589.13 L99.69,587.27 L99.85,585.40 L100.02,583.52 L100.19,581.61 L100.36,579.70 L100.53,577.77 L100.71,575.83 L100.89,573.88 L101.07,571.93 L101.25,569.97 L101.44,568.00 L101.63,566.03 L101.83,564.06 L102.03,562.09 L102.23,560.13 L102.43,558.16 L102.64,556.21 L102.85,554.26 L103.07,552.31 L103.29,550.38 L103.51,548.46 L103.74,546.55 L103.97,544.66 L104.20,542.78 L104.44,540.93 L104.68,539.09 L104.93,537.27 L105.18,535.47 L105.43,533.70 L105.69,531.96 L105.95,530.24 L106.22,528.55 L106.49,526.89 L106.77,525.26 L107.05,523.67 L107.33,522.11 L107.62,520.59 L107.92,519.11 L108.22,517.67 L108.52,516.27 L108.83,514.91 L109.15,513.60 L109.47,512.33 L109.80,511.11 L110.13,509.93 L110.46,508.80 L110.80,507.70 L111.15,506.65 L111.50,505.63 L111.86,504.65 L112.22,503.70 L112.59,502.78 L112.97,501.90 L113.35,501.05 L113.73,500.23 L114.12,499.44 L114.52,498.67 L114.93,497.92 L115.34,497.20 L115.75,496.51 L116.17,495.83 L116.60,495.17 L117.04,494.53 L117.48,493.91 L117.93,493.30 L118.38,492.70 L118.84,492.11 L119.31,491.54 L119.78,490.98 L120.26,490.42 L120.75,489.87 L121.25,489.32 L121.75,488.78 L122.26,488.24 L122.77,487.70 L123.29,487.15 L123.82,486.61 L124.36,486.06 L124.90,485.51 L125.46,484.95 L126.01,484.38 L126.58,483.80 L127.15,483.21 L127.74,482.61 L128.33,481.99 L128.92,481.36 L129.53,480.71 L130.14,480.05 L130.76,479.36 L131.39,478.65 L132.02,477.93 L132.67,477.17 L133.32,476.39 L133.98,475.59 L134.65,474.75 L135.33,473.89 L136.01,472.99 L136.71,472.07 L137.41,471.10 L138.12,470.11 L138.84,469.07 L139.57,468.00 L140.30,466.89 L141.05,465.74 L141.80,464.56 L142.56,463.34 L143.33,462.10 L144.11,460.82 L144.89,459.53 L145.68,458.21 L146.47,456.87 L147.28,455.52 L148.08,454.15 L148.90,452.77 L149.71,451.39 L150.54,449.99 L151.36,448.60 L152.19,447.20 L153.03,445.80 L153.87,444.41 L154.71,443.03 L155.55,441.65 L156.40,440.29 L157.25,438.94 L158.10,437.61 L158.95,436.30 L159.81,435.01 L160.66,433.74 L161.52,432.50 L162.38,431.30 L163.23,430.12 L164.09,428.98 L164.95,427.88 L165.80,426.82 L166.66,425.81 L167.51,424.83 L168.36,423.91 L169.21,423.04 L170.06,422.22 L170.91,421.46 L171.75,420.75 L172.59,420.11 L173.42,419.53 L174.26,419.02 L175.08,418.57 L175.91,418.20 L176.72,417.90 L177.54,417.68 L178.35,417.54 L179.15,417.48 L179.95,417.51 L180.74,417.62 L181.52,417.82 L182.30,418.11 L183.07,418.50 L183.83,418.99 L184.58,419.58 L185.33,420.26 L186.07,421.06 L186.80,421.96 L187.52,422.97 L188.23,424.10 L188.93,425.34 L189.63,426.69 L190.31,428.15 L190.99,429.72 L191.66,431.39 L192.32,433.16 L192.98,435.02 L193.64,436.97 L194.28,439.01 L194.93,441.14 L195.57,443.34 L196.21,445.63 L196.85,447.98 L197.49,450.41 L198.12,452.91 L198.76,455.47 L199.40,458.09 L200.04,460.76 L200.68,463.49 L201.32,466.27 L201.97,469.10 L202.62,471.97 L203.28,474.87 L203.94,477.82 L204.61,480.79 L205.28,483.80 L205.96,486.83 L206.65,489.88 L207.35,492.96 L208.06,496.04 L208.78,499.14 L209.51,502.25 L210.25,505.36 L211.00,508.47 L211.77,511.58 L212.54,514.69 L213.34,517.78 L214.14,520.86 L214.97,523.93 L215.80,526.98 L216.66,530.00 L217.53,533.00 L218.42,535.97 L219.33,538.91 L220.25,541.80 L221.20,544.66 L222.17,547.48 L223.15,550.24 L224.16,552.96 L225.20,555.62 L226.25,558.23 L227.33,560.77 L228.44,563.25 L229.56,565.66 L230.72,568.00 L231.90,570.26 L233.11,572.45 L234.34,574.55 L235.61,576.57 L236.90,578.50 L238.22,580.34 L239.57,582.09 L240.95,583.75 L242.37,585.32 L243.81,586.80 L245.29,588.21 L246.80,589.53 L248.34,590.77 L249.91,591.93 L251.52,593.01 L253.15,594.02 L254.83,594.95 L256.54,595.81 L258.28,596.61 L260.06,597.33 L261.87,597.98 L263.72,598.57 L265.61,599.10 L267.53,599.57 L269.49,599.97 L271.49,600.32 L273.52,600.60 L275.59,600.84 L277.71,601.02 L279.86,601.14 L282.05,601.22 L284.28,601.25 L286.55,601.23 L288.86,601.17 L291.22,601.06 L293.61,600.91 L296.05,600.72 L298.53,600.49 L301.05,600.23 L303.61,599.93 L306.22,599.60 L308.87,599.23 L311.57,598.84 L314.31,598.41 L317.10,597.96 L319.93,597.48 L322.80,596.99 L325.73,596.46 L328.70,595.92 L331.72,595.36 L334.78,594.79 L337.89,594.20 L341.05,593.59 L344.26,592.97 L347.52,592.35 L350.83,591.71 L354.19,591.07 L357.60,590.42 L361.06,589.77 L364.57,589.12 L368.13,588.47 L371.74,587.82 L375.41,587.18 L379.12,586.53 L382.90,585.90 L386.79,585.26 L390.73,584.63 L394.73,584.02 L398.78,583.40 L402.88,582.80 L407.03,582.20 L411.23,581.62 L415.48,581.04 L419.78,580.46 L424.13,579.90 L428.52,579.34 L432.95,578.79 L437.43,578.25 L441.96,577.71 L446.52,577.18 L451.13,576.66 L455.77,576.14 L460.46,575.63 L465.18,575.12 L469.94,574.62 L474.74,574.13 L479.58,573.64 L484.45,573.16 L489.35,572.68 L494.28,572.21 L499.25,571.75 L504.25,571.28 L509.28,570.83 L514.33,570.37 L519.42,569.93 L524.53,569.48 L529.67,569.04 L534.83,568.61 L540.02,568.18 L545.23,567.75 L550.46,567.32 L555.72,566.90 L561.00,566.48 L566.29,566.07 L571.61,565.66 L576.94,565.25 L582.29,564.84 L587.65,564.44 L593.03,564.04 L598.43,563.64 L603.83,563.24 L609.25,562.85 L614.68,562.45 L620.12,562.06 L625.57,561.67 L631.03,561.28 L636.50,560.89 L641.97,560.51 L647.45,560.12 L652.93,559.74 L658.42,559.35 L663.91,558.97 L669.40,558.58 L674.89,558.20" fill="none" stroke="#000" stroke-width="1.5"/><rect x="86.10" y="627.20" width="9.6" height="9.6"/><rect x="92.18" y="638.20" width="9.6" height="9.6"/><rect x="104.35" y="578.60" width="9.6" height="9.6"/><rect x="134.77" y="569.40" width="9.6" height="9.6"/><rect x="183.43" y="557.40" width="9.6" height="9.6"/><rect x="232.10" y="594.50" width="9.6" height="9.6"/><rect x="378.10" y="587.30" width="9.6" height="9.6"/><rect x="670.09" y="568.30" width="9.6" height="9.6"/><path d="M84.90,628.60 L96.90,628.60 L90.90,638.80 Z"/><path d="M90.98,592.20 L102.98,592.20 L96.98,602.40 Z"/><path d="M103.15,572.10 L115.15,572.10 L109.15,582.30 Z"/><path d="M133.57,509.50 L145.57,509.50 L139.57,519.70 Z"/><path d="M182.23,462.50 L194.23,462.50 L188.23,472.70 Z"/><path d="M230.90,558.90 L242.90,558.90 L236.90,569.10 Z"/><path d="M376.90,562.20 L388.90,562.20 L382.90,572.40 Z"/><path d="M668.89,563.20 L680.89,563.20 L674.89,573.40 Z"/><circle cx="90.50" cy="632.00" r="4.85"/><circle cx="96.58" cy="616.70" r="4.85"/><circle cx="108.75" cy="512.80" r="4.85"/><circle cx="139.17" cy="467.20" r="4.85"/><circle cx="187.83" cy="423.30" r="4.85"/><circle cx="236.50" cy="577.70" r="4.85"/><circle cx="382.50" cy="585.10" r="4.85"/><circle cx="674.49" cy="557.40" r="4.85"/></g><g clip-path="url(#cpc)"><path d="M90.90,960.00 L90.99,957.18 L91.08,954.37 L91.17,951.55 L91.26,948.74 L91.34,945.93 L91.43,943.12 L91.52,940.32 L91.61,937.52 L91.70,934.72 L91.79,931.93 L91.88,929.15 L91.97,926.38 L92.06,923.61 L92.15,920.85 L92.24,918.09 L92.34,915.35 L92.43,912.62 L92.52,909.89 L92.61,907.18 L92.70,904.48 L92.80,901.79 L92.89,899.12 L92.99,896.45 L93.08,893.81 L93.17,891.17 L93.27,888.56 L93.37,885.95 L93.46,883.37 L93.56,880.80 L93.66,878.25 L93.76,875.72 L93.86,873.20 L93.96,870.71 L94.06,868.24 L94.16,865.78 L94.26,863.35 L94.36,860.94 L94.47,858.55 L94.57,856.19 L94.68,853.85 L94.78,851.54 L94.89,849.24 L95.00,846.98 L95.11,844.74 L95.21,842.53 L95.33,840.35 L95.44,838.19 L95.55,836.06 L95.66,833.97 L95.78,831.90 L95.89,829.86 L96.01,827.85 L96.13,825.88 L96.25,823.94 L96.37,822.03 L96.49,820.15 L96.61,818.31 L96.73,816.51 L96.86,814.73 L96.98,813.00 L97.11,811.30 L97.24,809.64 L97.37,808.01 L97.50,806.43 L97.63,804.87 L97.77,803.36 L97.90,801.88 L98.04,800.43 L98.18,799.03 L98.32,797.65 L98.47,796.32 L98.61,795.02 L98.76,793.75 L98.91,792.52 L99.06,791.33 L99.21,790.17 L99.37,789.05 L99.53,787.96 L99.69,786.91 L99.85,785.89 L100.02,784.91 L100.19,783.96 L100.36,783.05 L100.53,782.17 L100.71,781.33 L100.89,780.52 L101.07,779.74 L101.25,779.00 L101.44,778.30 L101.63,777.63 L101.83,776.99 L102.03,776.39 L102.23,775.82 L102.43,775.28 L102.64,774.78 L102.85,774.32 L103.07,773.88 L103.29,773.48 L103.51,773.11 L103.74,772.78 L103.97,772.48 L104.20,772.21 L104.44,771.98 L104.68,771.78 L104.93,771.61 L105.18,771.48 L105.43,771.38 L105.69,771.31 L105.95,771.27 L106.22,771.27 L106.49,771.29 L106.77,771.36 L107.05,771.45 L107.33,771.57 L107.62,771.73 L107.92,771.92 L108.22,772.14 L108.52,772.40 L108.83,772.68 L109.15,773.00 L109.47,773.35 L109.80,773.73 L110.13,774.14 L110.46,774.58 L110.80,775.05 L111.15,775.54 L111.50,776.06 L111.86,776.61 L112.22,777.19 L112.59,777.79 L112.97,778.41 L113.35,779.06 L113.73,779.73 L114.12,780.42 L114.52,781.14 L114.93,781.87 L115.34,782.63 L115.75,783.40 L116.17,784.19 L116.60,785.00 L117.04,785.83 L117.48,786.67 L117.93,787.53 L118.38,788.40 L118.84,789.29 L119.31,790.19 L119.78,791.10 L120.26,792.02 L120.75,792.96 L121.25,793.90 L121.75,794.85 L122.26,795.82 L122.77,796.79 L123.29,797.77 L123.82,798.75 L124.36,799.74 L124.90,800.74 L125.46,801.73 L126.01,802.74 L126.58,803.74 L127.15,804.75 L127.74,805.76 L128.33,806.77 L128.92,807.78 L129.53,808.79 L130.14,809.79 L130.76,810.80 L131.39,811.80 L132.02,812.80 L132.67,813.79 L133.32,814.78 L133.98,815.76 L134.65,816.73 L135.33,817.70 L136.01,818.66 L136.71,819.61 L137.41,820.55 L138.12,821.48 L138.84,822.39 L139.57,823.30 L140.30,824.19 L141.05,825.07 L141.80,825.94 L142.56,826.80 L143.33,827.64 L144.11,828.47 L144.89,829.28 L145.68,830.08 L146.47,830.87 L147.28,831.65 L148.08,832.41 L148.90,833.16 L149.71,833.89 L150.54,834.62 L151.36,835.33 L152.19,836.02 L153.03,836.70 L153.87,837.37 L154.71,838.02 L155.55,838.66 L156.40,839.29 L157.25,839.90 L158.10,840.50 L158.95,841.08 L159.81,841.65 L160.66,842.20 L161.52,842.75 L162.38,843.27 L163.23,843.78 L164.09,844.28 L164.95,844.77 L165.80,845.23 L166.66,845.69 L167.51,846.13 L168.36,846.55 L169.21,846.96 L170.06,847.36 L170.91,847.74 L171.75,848.10 L172.59,848.45 L173.42,848.79 L174.26,849.11 L175.08,849.41 L175.91,849.70 L176.72,849.97 L177.54,850.23 L178.35,850.47 L179.15,850.70 L179.95,850.91 L180.74,851.11 L181.52,851.29 L182.30,851.46 L183.07,851.60 L183.83,851.74 L184.58,851.85 L185.33,851.96 L186.07,852.04 L186.80,852.11 L187.52,852.16 L188.23,852.20 L188.93,852.22 L189.63,852.23 L190.31,852.21 L190.99,852.19 L191.66,852.15 L192.32,852.09 L192.98,852.02 L193.64,851.94 L194.28,851.84 L194.93,851.73 L195.57,851.61 L196.21,851.47 L196.85,851.32 L197.49,851.16 L198.12,850.99 L198.76,850.81 L199.40,850.62 L200.04,850.41 L200.68,850.20 L201.32,849.98 L201.97,849.74 L202.62,849.50 L203.28,849.25 L203.94,848.99 L204.61,848.73 L205.28,848.45 L205.96,848.17 L206.65,847.88 L207.35,847.59 L208.06,847.28 L208.78,846.98 L209.51,846.66 L210.25,846.34 L211.00,846.02 L211.77,845.69 L212.54,845.36 L213.34,845.02 L214.14,844.68 L214.97,844.34 L215.80,843.99 L216.66,843.65 L217.53,843.30 L218.42,842.94 L219.33,842.59 L220.25,842.23 L221.20,841.88 L222.17,841.52 L223.15,841.16 L224.16,840.81 L225.20,840.45 L226.25,840.10 L227.33,839.74 L228.44,839.39 L229.56,839.04 L230.72,838.69 L231.90,838.35 L233.11,838.01 L234.34,837.67 L235.61,837.33 L236.90,837.00 L238.22,836.67 L239.57,836.35 L240.95,836.03 L242.37,835.72 L243.81,835.42 L245.29,835.12 L246.80,834.83 L248.34,834.55 L249.91,834.28 L251.52,834.02 L253.15,833.76 L254.83,833.52 L256.54,833.29 L258.28,833.07 L260.06,832.86 L261.87,832.67 L263.72,832.48 L265.61,832.31 L267.53,832.16 L269.49,832.02 L271.49,831.90 L273.52,831.79 L275.59,831.70 L277.71,831.62 L279.86,831.57 L282.05,831.53 L284.28,831.51 L286.55,831.51 L288.86,831.53 L291.22,831.57 L293.61,831.63 L296.05,831.71 L298.53,831.82 L301.05,831.94 L303.61,832.09 L306.22,832.27 L308.87,832.46 L311.57,832.69 L314.31,832.94 L317.10,833.21 L319.93,833.51 L322.80,833.84 L325.73,834.19 L328.70,834.58 L331.72,834.99 L334.78,835.43 L337.89,835.90 L341.05,836.41 L344.26,836.94 L347.52,837.50 L350.83,838.10 L354.19,838.73 L357.60,839.39 L361.06,840.09 L364.57,840.82 L368.13,841.58 L371.74,842.38 L375.41,843.22 L379.12,844.09 L382.90,845.00 L386.79,845.96 L390.73,846.97 L394.73,848.00 L398.78,849.08 L402.88,850.19 L407.03,851.34 L411.23,852.52 L415.48,853.74 L419.78,854.99 L424.13,856.27 L428.52,857.59 L432.95,858.94 L437.43,860.32 L441.96,861.72 L446.52,863.16 L451.13,864.63 L455.77,866.13 L460.46,867.65 L465.18,869.20 L469.94,870.78 L474.74,872.38 L479.58,874.01 L484.45,875.66 L489.35,877.33 L494.28,879.03 L499.25,880.75 L504.25,882.50 L509.28,884.26 L514.33,886.04 L519.42,887.85 L524.53,889.67 L529.67,891.51 L534.83,893.37 L540.02,895.25 L545.23,897.14 L550.46,899.05 L555.72,900.97 L561.00,902.91 L566.29,904.87 L571.61,906.83 L576.94,908.81 L582.29,910.80 L587.65,912.80 L593.03,914.81 L598.43,916.83 L603.83,918.86 L609.25,920.90 L614.68,922.95 L620.12,925.00 L625.57,927.06 L631.03,929.13 L636.50,931.20 L641.97,933.28 L647.45,935.36 L652.93,937.44 L658.42,939.53 L663.91,941.62 L669.40,943.71 L674.89,945.80" fill="none" stroke="#000" stroke-width="1.5"/><path d="M90.90,959.30 L90.99,956.55 L91.08,953.80 L91.17,951.06 L91.26,948.31 L91.34,945.57 L91.43,942.83 L91.52,940.10 L91.61,937.37 L91.70,934.65 L91.79,931.94 L91.88,929.23 L91.97,926.54 L92.06,923.85 L92.15,921.17 L92.24,918.50 L92.34,915.85 L92.43,913.20 L92.52,910.57 L92.61,907.96 L92.70,905.36 L92.80,902.77 L92.89,900.20 L92.99,897.65 L93.08,895.11 L93.17,892.60 L93.27,890.10 L93.37,887.62 L93.46,885.17 L93.56,882.74 L93.66,880.32 L93.76,877.94 L93.86,875.57 L93.96,873.23 L94.06,870.92 L94.16,868.63 L94.26,866.37 L94.36,864.14 L94.47,861.94 L94.57,859.76 L94.68,857.62 L94.78,855.51 L94.89,853.43 L95.00,851.38 L95.11,849.36 L95.21,847.38 L95.33,845.44 L95.44,843.53 L95.55,841.65 L95.66,839.82 L95.78,838.02 L95.89,836.26 L96.01,834.54 L96.13,832.86 L96.25,831.22 L96.37,829.63 L96.49,828.07 L96.61,826.56 L96.73,825.10 L96.86,823.68 L96.98,822.30 L97.11,820.97 L97.24,819.69 L97.37,818.45 L97.50,817.26 L97.63,816.11 L97.77,815.00 L97.90,813.94 L98.04,812.91 L98.18,811.93 L98.32,810.99 L98.47,810.09 L98.61,809.22 L98.76,808.40 L98.91,807.61 L99.06,806.86 L99.21,806.14 L99.37,805.46 L99.53,804.82 L99.69,804.20 L99.85,803.63 L100.02,803.08 L100.19,802.56 L100.36,802.08 L100.53,801.63 L100.71,801.20 L100.89,800.81 L101.07,800.44 L101.25,800.10 L101.44,799.79 L101.63,799.50 L101.83,799.24 L102.03,799.00 L102.23,798.79 L102.43,798.60 L102.64,798.44 L102.85,798.29 L103.07,798.17 L103.29,798.06 L103.51,797.98 L103.74,797.91 L103.97,797.87 L104.20,797.84 L104.44,797.82 L104.68,797.83 L104.93,797.85 L105.18,797.88 L105.43,797.93 L105.69,797.99 L105.95,798.06 L106.22,798.15 L106.49,798.24 L106.77,798.35 L107.05,798.47 L107.33,798.59 L107.62,798.73 L107.92,798.87 L108.22,799.02 L108.52,799.17 L108.83,799.33 L109.15,799.50 L109.47,799.67 L109.80,799.84 L110.13,800.02 L110.46,800.20 L110.80,800.39 L111.15,800.57 L111.50,800.76 L111.86,800.96 L112.22,801.15 L112.59,801.35 L112.97,801.55 L113.35,801.75 L113.73,801.96 L114.12,802.17 L114.52,802.38 L114.93,802.58 L115.34,802.80 L115.75,803.01 L116.17,803.22 L116.60,803.44 L117.04,803.65 L117.48,803.87 L117.93,804.08 L118.38,804.30 L118.84,804.51 L119.31,804.73 L119.78,804.94 L120.26,805.15 L120.75,805.37 L121.25,805.58 L121.75,805.79 L122.26,806.00 L122.77,806.21 L123.29,806.41 L123.82,806.62 L124.36,806.82 L124.90,807.02 L125.46,807.22 L126.01,807.41 L126.58,807.60 L127.15,807.79 L127.74,807.98 L128.33,808.16 L128.92,808.34 L129.53,808.52 L130.14,808.69 L130.76,808.86 L131.39,809.02 L132.02,809.18 L132.67,809.34 L133.32,809.49 L133.98,809.63 L134.65,809.77 L135.33,809.91 L136.01,810.04 L136.71,810.16 L137.41,810.28 L138.12,810.39 L138.84,810.50 L139.57,810.60 L140.30,810.69 L141.05,810.78 L141.80,810.86 L142.56,810.94 L143.33,811.01 L144.11,811.07 L144.89,811.13 L145.68,811.18 L146.47,811.23 L147.28,811.27 L148.08,811.30 L148.90,811.34 L149.71,811.36 L150.54,811.38 L151.36,811.40 L152.19,811.41 L153.03,811.42 L153.87,811.42 L154.71,811.42 L155.55,811.42 L156.40,811.41 L157.25,811.40 L158.10,811.38 L158.95,811.36 L159.81,811.34 L160.66,811.31 L161.52,811.28 L162.38,811.25 L163.23,811.21 L164.09,811.17 L164.95,811.13 L165.80,811.08 L166.66,811.04 L167.51,810.99 L168.36,810.94 L169.21,810.88 L170.06,810.83 L170.91,810.77 L171.75,810.71 L172.59,810.65 L173.42,810.59 L174.26,810.53 L175.08,810.46 L175.91,810.40 L176.72,810.33 L177.54,810.26 L178.35,810.19 L179.15,810.13 L179.95,810.06 L180.74,809.99 L181.52,809.92 L182.30,809.85 L183.07,809.78 L183.83,809.71 L184.58,809.64 L185.33,809.57 L186.07,809.50 L186.80,809.43 L187.52,809.37 L188.23,809.30 L188.93,809.23 L189.63,809.17 L190.31,809.11 L190.99,809.05 L191.66,808.99 L192.32,808.93 L192.98,808.88 L193.64,808.83 L194.28,808.78 L194.93,808.74 L195.57,808.70 L196.21,808.66 L196.85,808.63 L197.49,808.61 L198.12,808.58 L198.76,808.57 L199.40,808.55 L200.04,808.55 L200.68,808.55 L201.32,808.55 L201.97,808.57 L202.62,808.59 L203.28,808.61 L203.94,808.65 L204.61,808.69 L205.28,808.74 L205.96,808.79 L206.65,808.86 L207.35,808.93 L208.06,809.02 L208.78,809.11 L209.51,809.21 L210.25,809.32 L211.00,809.44 L211.77,809.57 L212.54,809.72 L213.34,809.87 L214.14,810.03 L214.97,810.21 L215.80,810.40 L216.66,810.59 L217.53,810.81 L218.42,811.03 L219.33,811.27 L220.25,811.52 L221.20,811.78 L222.17,812.05 L223.15,812.34 L224.16,812.65 L225.20,812.97 L226.25,813.30 L227.33,813.65 L228.44,814.01 L229.56,814.39 L230.72,814.78 L231.90,815.19 L233.11,815.62 L234.34,816.06 L235.61,816.52 L236.90,817.00 L238.22,817.49 L239.57,818.01 L240.95,818.53 L242.37,819.08 L243.81,819.64 L245.29,820.22 L246.80,820.81 L248.34,821.43 L249.91,822.05 L251.52,822.70 L253.15,823.36 L254.83,824.03 L256.54,824.72 L258.28,825.43 L260.06,826.15 L261.87,826.88 L263.72,827.63 L265.61,828.40 L267.53,829.18 L269.49,829.97 L271.49,830.78 L273.52,831.60 L275.59,832.44 L277.71,833.29 L279.86,834.15 L282.05,835.03 L284.28,835.92 L286.55,836.82 L288.86,837.74 L291.22,838.67 L293.61,839.61 L296.05,840.56 L298.53,841.53 L301.05,842.51 L303.61,843.50 L306.22,844.50 L308.87,845.51 L311.57,846.54 L314.31,847.58 L317.10,848.62 L319.93,849.68 L322.80,850.75 L325.73,851.83 L328.70,852.93 L331.72,854.03 L334.78,855.14 L337.89,856.26 L341.05,857.39 L344.26,858.54 L347.52,859.69 L350.83,860.85 L354.19,862.02 L357.60,863.20 L361.06,864.39 L364.57,865.59 L368.13,866.79 L371.74,868.01 L375.41,869.23 L379.12,870.46 L382.90,871.70 L386.79,872.97 L390.73,874.25 L394.73,875.53 L398.78,876.82 L402.88,878.12 L407.03,879.43 L411.23,880.74 L415.48,882.07 L419.78,883.39 L424.13,884.73 L428.52,886.07 L432.95,887.42 L437.43,888.78 L441.96,890.14 L446.52,891.51 L451.13,892.88 L455.77,894.27 L460.46,895.65 L465.18,897.04 L469.94,898.44 L474.74,899.84 L479.58,901.25 L484.45,902.67 L489.35,904.08 L494.28,905.51 L499.25,906.94 L504.25,908.37 L509.28,909.81 L514.33,911.25 L519.42,912.69 L524.53,914.14 L529.67,915.60 L534.83,917.05 L540.02,918.51 L545.23,919.98 L550.46,921.45 L555.72,922.92 L561.00,924.39 L566.29,925.87 L571.61,927.35 L576.94,928.83 L582.29,930.31 L587.65,931.80 L593.03,933.29 L598.43,934.78 L603.83,936.27 L609.25,937.77 L614.68,939.27 L620.12,940.76 L625.57,942.26 L631.03,943.76 L636.50,945.27 L641.97,946.77 L647.45,948.27 L652.93,949.78 L658.42,951.28 L663.91,952.79 L669.40,954.29 L674.89,955.80" fill="none" stroke="#000" stroke-width="1.5"/><path d="M90.90,960.80 L90.99,956.43 L91.08,952.07 L91.17,947.71 L91.26,943.35 L91.34,939.00 L91.43,934.66 L91.52,930.32 L91.61,926.00 L91.70,921.69 L91.79,917.39 L91.88,913.11 L91.97,908.84 L92.06,904.60 L92.15,900.37 L92.24,896.17 L92.34,891.99 L92.43,887.83 L92.52,883.70 L92.61,879.59 L92.70,875.52 L92.80,871.48 L92.89,867.46 L92.99,863.49 L93.08,859.54 L93.17,855.64 L93.27,851.77 L93.37,847.94 L93.46,844.16 L93.56,840.42 L93.66,836.72 L93.76,833.07 L93.86,829.46 L93.96,825.91 L94.06,822.40 L94.16,818.95 L94.26,815.55 L94.36,812.21 L94.47,808.92 L94.57,805.69 L94.68,802.52 L94.78,799.42 L94.89,796.37 L95.00,793.39 L95.11,790.48 L95.21,787.63 L95.33,784.86 L95.44,782.15 L95.55,779.52 L95.66,776.96 L95.78,774.47 L95.89,772.06 L96.01,769.73 L96.13,767.48 L96.25,765.32 L96.37,763.23 L96.49,761.23 L96.61,759.31 L96.73,757.49 L96.86,755.75 L96.98,754.10 L97.11,752.54 L97.24,751.08 L97.37,749.70 L97.50,748.40 L97.63,747.19 L97.77,746.06 L97.90,745.00 L98.04,744.02 L98.18,743.11 L98.32,742.27 L98.47,741.50 L98.61,740.79 L98.76,740.15 L98.91,739.56 L99.06,739.03 L99.21,738.56 L99.37,738.14 L99.53,737.77 L99.69,737.44 L99.85,737.16 L100.02,736.93 L100.19,736.73 L100.36,736.57 L100.53,736.44 L100.71,736.35 L100.89,736.29 L101.07,736.25 L101.25,736.24 L101.44,736.25 L101.63,736.29 L101.83,736.33 L102.03,736.40 L102.23,736.47 L102.43,736.56 L102.64,736.65 L102.85,736.75 L103.07,736.85 L103.29,736.95 L103.51,737.05 L103.74,737.14 L103.97,737.23 L104.20,737.30 L104.44,737.37 L104.68,737.41 L104.93,737.45 L105.18,737.46 L105.43,737.44 L105.69,737.41 L105.95,737.34 L106.22,737.25 L106.49,737.12 L106.77,736.96 L107.05,736.76 L107.33,736.52 L107.62,736.23 L107.92,735.91 L108.22,735.53 L108.52,735.11 L108.83,734.63 L109.15,734.10 L109.47,733.51 L109.80,732.87 L110.13,732.17 L110.46,731.42 L110.80,730.63 L111.15,729.78 L111.50,728.90 L111.86,727.97 L112.22,727.00 L112.59,725.99 L112.97,724.95 L113.35,723.87 L113.73,722.77 L114.12,721.63 L114.52,720.47 L114.93,719.28 L115.34,718.07 L115.75,716.84 L116.17,715.60 L116.60,714.33 L117.04,713.05 L117.48,711.77 L117.93,710.47 L118.38,709.16 L118.84,707.85 L119.31,706.54 L119.78,705.23 L120.26,703.91 L120.75,702.61 L121.25,701.30 L121.75,700.01 L122.26,698.73 L122.77,697.46 L123.29,696.20 L123.82,694.96 L124.36,693.74 L124.90,692.54 L125.46,691.37 L126.01,690.22 L126.58,689.10 L127.15,688.01 L127.74,686.95 L128.33,685.92 L128.92,684.94 L129.53,683.99 L130.14,683.08 L130.76,682.21 L131.39,681.39 L132.02,680.62 L132.67,679.90 L133.32,679.23 L133.98,678.62 L134.65,678.06 L135.33,677.55 L136.01,677.11 L136.71,676.74 L137.41,676.42 L138.12,676.18 L138.84,676.00 L139.57,675.90 L140.30,675.87 L141.05,675.91 L141.80,676.02 L142.56,676.21 L143.33,676.46 L144.11,676.78 L144.89,677.17 L145.68,677.63 L146.47,678.14 L147.28,678.73 L148.08,679.37 L148.90,680.08 L149.71,680.84 L150.54,681.67 L151.36,682.55 L152.19,683.49 L153.03,684.49 L153.87,685.53 L154.71,686.64 L155.55,687.79 L156.40,689.00 L157.25,690.25 L158.10,691.56 L158.95,692.91 L159.81,694.30 L160.66,695.75 L161.52,697.23 L162.38,698.76 L163.23,700.33 L164.09,701.95 L164.95,703.60 L165.80,705.29 L166.66,707.01 L167.51,708.78 L168.36,710.58 L169.21,712.41 L170.06,714.27 L170.91,716.17 L171.75,718.09 L172.59,720.05 L173.42,722.03 L174.26,724.04 L175.08,726.08 L175.91,728.14 L176.72,730.22 L177.54,732.32 L178.35,734.45 L179.15,736.60 L179.95,738.76 L180.74,740.95 L181.52,743.15 L182.30,745.36 L183.07,747.59 L183.83,749.83 L184.58,752.09 L185.33,754.35 L186.07,756.63 L186.80,758.91 L187.52,761.20 L188.23,763.50 L188.93,765.80 L189.63,768.11 L190.31,770.42 L190.99,772.73 L191.66,775.04 L192.32,777.35 L192.98,779.66 L193.64,781.96 L194.28,784.26 L194.93,786.56 L195.57,788.85 L196.21,791.13 L196.85,793.40 L197.49,795.66 L198.12,797.91 L198.76,800.15 L199.40,802.38 L200.04,804.59 L200.68,806.78 L201.32,808.96 L201.97,811.12 L202.62,813.26 L203.28,815.38 L203.94,817.48 L204.61,819.56 L205.28,821.61 L205.96,823.64 L206.65,825.64 L207.35,827.61 L208.06,829.56 L208.78,831.47 L209.51,833.36 L210.25,835.21 L211.00,837.03 L211.77,838.82 L212.54,840.57 L213.34,842.28 L214.14,843.95 L214.97,845.59 L215.80,847.19 L216.66,848.74 L217.53,850.25 L218.42,851.72 L219.33,853.15 L220.25,854.52 L221.20,855.86 L222.17,857.14 L223.15,858.37 L224.16,859.55 L225.20,860.69 L226.25,861.76 L227.33,862.79 L228.44,863.76 L229.56,864.67 L230.72,865.53 L231.90,866.32 L233.11,867.06 L234.34,867.74 L235.61,868.35 L236.90,868.90 L238.22,869.39 L239.57,869.81 L240.95,870.17 L242.37,870.48 L243.81,870.73 L245.29,870.92 L246.80,871.07 L248.34,871.16 L249.91,871.20 L251.52,871.20 L253.15,871.15 L254.83,871.06 L256.54,870.93 L258.28,870.77 L260.06,870.56 L261.87,870.32 L263.72,870.05 L265.61,869.75 L267.53,869.43 L269.49,869.07 L271.49,868.69 L273.52,868.29 L275.59,867.87 L277.71,867.43 L279.86,866.98 L282.05,866.51 L284.28,866.03 L286.55,865.53 L288.86,865.04 L291.22,864.53 L293.61,864.02 L296.05,863.51 L298.53,863.00 L301.05,862.49 L303.61,861.99 L306.22,861.49 L308.87,861.00 L311.57,860.52 L314.31,860.05 L317.10,859.59 L319.93,859.16 L322.80,858.74 L325.73,858.34 L328.70,857.96 L331.72,857.61 L334.78,857.28 L337.89,856.98 L341.05,856.72 L344.26,856.48 L347.52,856.28 L350.83,856.11 L354.19,855.99 L357.60,855.90 L361.06,855.86 L364.57,855.86 L368.13,855.91 L371.74,856.00 L375.41,856.15 L379.12,856.35 L382.90,856.60 L386.79,856.91 L390.73,857.29 L394.73,857.72 L398.78,858.20 L402.88,858.74 L407.03,859.33 L411.23,859.98 L415.48,860.67 L419.78,861.42 L424.13,862.22 L428.52,863.06 L432.95,863.95 L437.43,864.89 L441.96,865.88 L446.52,866.91 L451.13,867.98 L455.77,869.10 L460.46,870.25 L465.18,871.45 L469.94,872.69 L474.74,873.96 L479.58,875.28 L484.45,876.63 L489.35,878.01 L494.28,879.44 L499.25,880.89 L504.25,882.38 L509.28,883.90 L514.33,885.45 L519.42,887.02 L524.53,888.63 L529.67,890.27 L534.83,891.93 L540.02,893.62 L545.23,895.33 L550.46,897.07 L555.72,898.83 L561.00,900.61 L566.29,902.41 L571.61,904.23 L576.94,906.08 L582.29,907.93 L587.65,909.81 L593.03,911.70 L598.43,913.61 L603.83,915.53 L609.25,917.46 L614.68,919.40 L620.12,921.36 L625.57,923.33 L631.03,925.30 L636.50,927.28 L641.97,929.27 L647.45,931.27 L652.93,933.27 L658.42,935.27 L663.91,937.28 L669.40,939.29 L674.89,941.30" fill="none" stroke="#000" stroke-width="1.5"/><rect x="86.10" y="955.20" width="9.6" height="9.6"/><rect x="92.18" y="808.20" width="9.6" height="9.6"/><rect x="104.35" y="768.20" width="9.6" height="9.6"/><rect x="134.77" y="818.50" width="9.6" height="9.6"/><rect x="183.43" y="847.40" width="9.6" height="9.6"/><rect x="232.10" y="832.20" width="9.6" height="9.6"/><rect x="378.10" y="840.20" width="9.6" height="9.6"/><rect x="670.09" y="941.00" width="9.6" height="9.6"/><path d="M84.90,955.90 L96.90,955.90 L90.90,966.10 Z"/><path d="M90.98,818.90 L102.98,818.90 L96.98,829.10 Z"/><path d="M103.15,796.10 L115.15,796.10 L109.15,806.30 Z"/><path d="M133.57,807.20 L145.57,807.20 L139.57,817.40 Z"/><path d="M182.23,805.90 L194.23,805.90 L188.23,816.10 Z"/><path d="M230.90,813.60 L242.90,813.60 L236.90,823.80 Z"/><path d="M376.90,868.30 L388.90,868.30 L382.90,878.50 Z"/><path d="M668.89,952.40 L680.89,952.40 L674.89,962.60 Z"/><circle cx="90.50" cy="960.00" r="4.85"/><circle cx="96.58" cy="753.30" r="4.85"/><circle cx="108.75" cy="733.30" r="4.85"/><circle cx="139.17" cy="675.10" r="4.85"/><circle cx="187.83" cy="762.70" r="4.85"/><circle cx="236.50" cy="868.10" r="4.85"/><circle cx="382.50" cy="855.80" r="4.85"/><circle cx="674.49" cy="940.50" r="4.85"/></g><g stroke="#000" fill="none"><line x1="91.0" y1="10.36" x2="91.0" y2="341.63" stroke-width="1.65"/><line x1="675.0" y1="10.36" x2="675.0" y2="341.63" stroke-width="1.65"/><line x1="84.3" y1="341.63" x2="675.825" y2="341.63" stroke-width="1.5"/><line x1="91.00" y1="341.63" x2="91.00" y2="347.63" stroke-width="1.65"/><line x1="163.90" y1="341.63" x2="163.90" y2="347.63" stroke-width="1.65"/><line x1="236.90" y1="341.63" x2="236.90" y2="347.63" stroke-width="1.65"/><line x1="309.90" y1="341.63" x2="309.90" y2="347.63" stroke-width="1.65"/><line x1="382.90" y1="341.63" x2="382.90" y2="347.63" stroke-width="1.65"/><line x1="455.89" y1="341.63" x2="455.89" y2="347.63" stroke-width="1.65"/><line x1="528.89" y1="341.63" x2="528.89" y2="347.63" stroke-width="1.65"/><line x1="601.89" y1="341.63" x2="601.89" y2="347.63" stroke-width="1.65"/><line x1="675.00" y1="341.63" x2="675.00" y2="347.63" stroke-width="1.65"/><line x1="87.0" y1="300.10" x2="91.0" y2="300.10" stroke-width="1.5"/><line x1="84.3" y1="258.70" x2="91.0" y2="258.70" stroke-width="1.5"/><line x1="87.0" y1="217.30" x2="91.0" y2="217.30" stroke-width="1.5"/><line x1="84.3" y1="175.90" x2="91.0" y2="175.90" stroke-width="1.5"/><line x1="87.0" y1="134.50" x2="91.0" y2="134.50" stroke-width="1.5"/><line x1="84.3" y1="93.10" x2="91.0" y2="93.10" stroke-width="1.5"/><line x1="87.0" y1="51.70" x2="91.0" y2="51.70" stroke-width="1.5"/><line x1="91.0" y1="341.63" x2="91.0" y2="673.1" stroke-width="1.65"/><line x1="675.0" y1="341.63" x2="675.0" y2="673.1" stroke-width="1.65"/><line x1="84.3" y1="673.1" x2="675.825" y2="673.1" stroke-width="1.5"/><line x1="91.00" y1="673.1" x2="91.00" y2="679.1" stroke-width="1.65"/><line x1="163.90" y1="673.1" x2="163.90" y2="679.1" stroke-width="1.65"/><line x1="236.90" y1="673.1" x2="236.90" y2="679.1" stroke-width="1.65"/><line x1="309.90" y1="673.1" x2="309.90" y2="679.1" stroke-width="1.65"/><line x1="382.90" y1="673.1" x2="382.90" y2="679.1" stroke-width="1.65"/><line x1="455.89" y1="673.1" x2="455.89" y2="679.1" stroke-width="1.65"/><line x1="528.89" y1="673.1" x2="528.89" y2="679.1" stroke-width="1.65"/><line x1="601.89" y1="673.1" x2="601.89" y2="679.1" stroke-width="1.65"/><line x1="675.00" y1="673.1" x2="675.00" y2="679.1" stroke-width="1.65"/><line x1="87.0" y1="631.75" x2="91.0" y2="631.75" stroke-width="1.5"/><line x1="84.3" y1="590.30" x2="91.0" y2="590.30" stroke-width="1.5"/><line x1="87.0" y1="548.85" x2="91.0" y2="548.85" stroke-width="1.5"/><line x1="84.3" y1="507.40" x2="91.0" y2="507.40" stroke-width="1.5"/><line x1="87.0" y1="465.95" x2="91.0" y2="465.95" stroke-width="1.5"/><line x1="84.3" y1="424.50" x2="91.0" y2="424.50" stroke-width="1.5"/><line x1="87.0" y1="383.05" x2="91.0" y2="383.05" stroke-width="1.5"/><line x1="91.0" y1="673.1" x2="91.0" y2="1001.36" stroke-width="1.65"/><line x1="675.0" y1="673.1" x2="675.0" y2="1001.36" stroke-width="1.65"/><line x1="84.3" y1="1001.36" x2="675.825" y2="1001.36" stroke-width="1.5"/><line x1="91.00" y1="1001.36" x2="91.00" y2="1007.36" stroke-width="1.65"/><line x1="163.90" y1="1001.36" x2="163.90" y2="1007.36" stroke-width="1.65"/><line x1="236.90" y1="1001.36" x2="236.90" y2="1007.36" stroke-width="1.65"/><line x1="309.90" y1="1001.36" x2="309.90" y2="1007.36" stroke-width="1.65"/><line x1="382.90" y1="1001.36" x2="382.90" y2="1007.36" stroke-width="1.65"/><line x1="455.89" y1="1001.36" x2="455.89" y2="1007.36" stroke-width="1.65"/><line x1="528.89" y1="1001.36" x2="528.89" y2="1007.36" stroke-width="1.65"/><line x1="601.89" y1="1001.36" x2="601.89" y2="1007.36" stroke-width="1.65"/><line x1="675.00" y1="1001.36" x2="675.00" y2="1007.36" stroke-width="1.65"/><line x1="87.0" y1="959.93" x2="91.0" y2="959.93" stroke-width="1.5"/><line x1="84.3" y1="918.46" x2="91.0" y2="918.46" stroke-width="1.5"/><line x1="87.0" y1="876.99" x2="91.0" y2="876.99" stroke-width="1.5"/><line x1="84.3" y1="835.52" x2="91.0" y2="835.52" stroke-width="1.5"/><line x1="87.0" y1="794.05" x2="91.0" y2="794.05" stroke-width="1.5"/><line x1="84.3" y1="752.58" x2="91.0" y2="752.58" stroke-width="1.5"/><line x1="87.0" y1="711.11" x2="91.0" y2="711.11" stroke-width="1.5"/><line x1="84.3" y1="10.36" x2="675.825" y2="10.36" stroke-width="1.5"/></g><g fill="#000" opacity="0.999"><text transform="translate(76.4,18.55) scale(0.92,1)" text-anchor="end" font-family="Liberation Serif" font-weight="bold" font-size="25">800</text><text transform="translate(76.4,101.80) scale(0.92,1)" text-anchor="end" font-family="Liberation Serif" font-weight="bold" font-size="25">600</text><text transform="translate(76.4,184.00) scale(0.92,1)" text-anchor="end" font-family="Liberation Serif" font-weight="bold" font-size="25">400</text><text transform="translate(76.4,267.00) scale(0.92,1)" text-anchor="end" font-family="Liberation Serif" font-weight="bold" font-size="25">200</text><text transform="translate(76.4,349.70) scale(0.92,1)" text-anchor="end" font-family="Liberation Serif" font-weight="bold" font-size="25">0</text><text transform="translate(76.4,433.55) scale(0.92,1)" text-anchor="end" font-family="Liberation Serif" font-weight="bold" font-size="25">600</text><text transform="translate(76.4,516.50) scale(0.92,1)" text-anchor="end" font-family="Liberation Serif" font-weight="bold" font-size="25">400</text><text transform="translate(76.4,599.50) scale(0.92,1)" text-anchor="end" font-family="Liberation Serif" font-weight="bold" font-size="25">200</text><text transform="translate(76.4,682.90) scale(0.92,1)" text-anchor="end" font-family="Liberation Serif" font-weight="bold" font-size="25">0</text><text transform="translate(76.4,762.20) scale(0.92,1)" text-anchor="end" font-family="Liberation Serif" font-weight="bold" font-size="25">600</text><text transform="translate(76.4,844.50) scale(0.92,1)" text-anchor="end" font-family="Liberation Serif" font-weight="bold" font-size="25">400</text><text transform="translate(76.4,927.50) scale(0.92,1)" text-anchor="end" font-family="Liberation Serif" font-weight="bold" font-size="25">200</text><text transform="translate(76.4,1010.90) scale(0.92,1)" text-anchor="end" font-family="Liberation Serif" font-weight="bold" font-size="25">0</text><text transform="translate(89.90,1033.0) scale(0.92,1)" text-anchor="middle" font-family="Liberation Serif" font-weight="bold" font-size="25">0</text><text transform="translate(162.90,1033.0) scale(0.92,1)" text-anchor="middle" font-family="Liberation Serif" font-weight="bold" font-size="25">3</text><text transform="translate(235.90,1033.0) scale(0.92,1)" text-anchor="middle" font-family="Liberation Serif" font-weight="bold" font-size="25">6</text><text transform="translate(308.90,1033.0) scale(0.92,1)" text-anchor="middle" font-family="Liberation Serif" font-weight="bold" font-size="25">9</text><text transform="translate(381.90,1033.0) scale(0.92,1)" text-anchor="middle" font-family="Liberation Serif" font-weight="bold" font-size="25">12</text><text transform="translate(454.89,1033.0) scale(0.92,1)" text-anchor="middle" font-family="Liberation Serif" font-weight="bold" font-size="25">15</text><text transform="translate(527.89,1033.0) scale(0.92,1)" text-anchor="middle" font-family="Liberation Serif" font-weight="bold" font-size="25">18</text><text transform="translate(600.89,1033.0) scale(0.92,1)" text-anchor="middle" font-family="Liberation Serif" font-weight="bold" font-size="25">21</text><text transform="translate(673.89,1033.0) scale(0.92,1)" text-anchor="middle" font-family="Liberation Serif" font-weight="bold" font-size="25">24</text><text x="381" y="1071.6" text-anchor="middle" font-family="Liberation Serif" font-weight="bold" font-size="28">Incubation Time (h)</text><text transform="translate(23.4,515.2) rotate(-90)" text-anchor="middle" font-family="Liberation Serif" font-weight="bold" font-size="27.7">Residual Laccase Activity (%)</text><text x="641.5" y="46.8" text-anchor="middle" font-family="Liberation Serif" font-weight="bold" font-size="32">a</text><text x="641.5" y="386.3" text-anchor="middle" font-family="Liberation Serif" font-weight="bold" font-size="32">b</text><text x="641.5" y="713.5" text-anchor="middle" font-family="Liberation Serif" font-weight="bold" font-size="32">c</text></g>
</svg>
</body></html>
